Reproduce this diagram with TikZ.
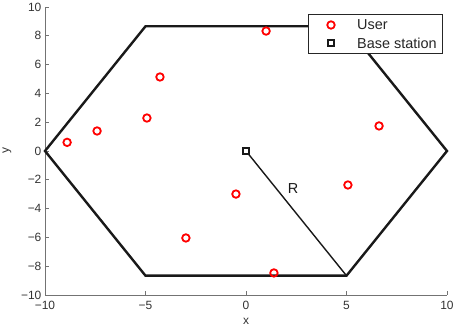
\documentclass[tikz,border=0pt]{standalone}
\usepackage{fontspec}
\setmainfont{Liberation Sans}
\usepackage{xcolor}
\usepackage{tikz}
\usetikzlibrary{calc, positioning}

\begin{document}
\begin{tikzpicture}[x=20.1bp, y=14.4bp,
    axisline/.style={draw=black!55, line width=0.7bp},
    ticklabel/.style={text=black!80, font=\fontsize{12}{12}\selectfont, inner sep=1bp},
    hexline/.style={line width=2.4bp, black!90, line join=miter},
    user/.style={circle, draw=red, line width=1.8bp, minimum size=7.5bp, inner sep=0pt},
    bstation/.style={rectangle, draw=black!90, fill=white, line width=2bp, minimum size=6bp, inner sep=0pt},
    legtext/.style={font=\fontsize{14.5}{14.5}\selectfont, text=black!85, anchor=west, inner sep=0pt}]
    \useasboundingbox (-12.239,-12.639) rectangle (10.299,10.486);

    % 1. Trục tọa độ (chỉ trục trái và trục dưới)
    \draw[axisline] (-10,10) -- (-10,-10) -- (10,-10);
    \foreach \t in {-10,-5,0,5,10}{
        \draw[axisline] (\t,-10) -- ++(0,0.28);
        \node[ticklabel] (xt\t) at (\t,-10.74) {\ifnum\t<0 −\number-\t\else\t\fi};
    }
    \foreach \t in {-10,-8,...,10}{
        \draw[axisline] (-10,\t) -- ++(0.2,0);
        \node[ticklabel, anchor=east] (yt\t) at (-10.12,\t) {\ifnum\t<0 −\number-\t\else\t\fi};
    }
    \node[ticklabel] (xlab) at (0,-11.86) {x};
    \node[ticklabel, rotate=90] (ylab) at (-11.89,0) {y};

    % 2. Lục giác (ô mạng)
    \coordinate (v1) at (10,0);
    \coordinate (v2) at (5,8.66);
    \coordinate (v3) at (-5,8.66);
    \coordinate (v4) at (-10,0);
    \coordinate (v5) at (-5,-8.66);
    \coordinate (v6) at (5,-8.66);
    \draw[hexline] (v1) -- (v2) -- (v3) -- (v4) -- (v5) -- (v6) -- cycle;

    % 3. Trạm gốc và bán kính R
    \node[bstation] (bs) at (0,0) {};
    \draw[line width=1.4bp, black!90] (bs.center) -- node[pos=0.30, anchor=west, xshift=11bp, inner sep=0pt, font=\fontsize{14.5}{14.5}\selectfont] (rlab) {R} (v6);
    \node[bstation] at (bs) {};

    % 4. Người dùng
    \node[user] (u1) at (1.0,8.33) {};
    \node[user] (u2) at (-4.28,5.14) {};
    \node[user] (u3) at (-4.93,2.29) {};
    \node[user] (u4) at (-7.41,1.39) {};
    \node[user] (u5) at (-8.9,0.6) {};
    \node[user] (u6) at (6.62,1.74) {};
    \node[user] (u7) at (-0.5,-2.99) {};
    \node[user] (u8) at (5.07,-2.36) {};
    \node[user] (u9) at (-2.99,-6.04) {};
    \node[user] (u10) at (1.39,-8.47) {};

    % 5. Chú thích
    \draw[fill=white, draw=black!85, line width=0.8bp] (3.085,6.806) rectangle (9.751,9.514);
    \node[user] (lu) at (4.229,8.75) {};
    \node[legtext] (lut) at (5.52,8.75) {User};
    \node[bstation] (lb) at (4.229,7.5) {};
    \node[legtext] (lbt) at (5.52,7.5) {Base station};
\end{tikzpicture}
\end{document}
